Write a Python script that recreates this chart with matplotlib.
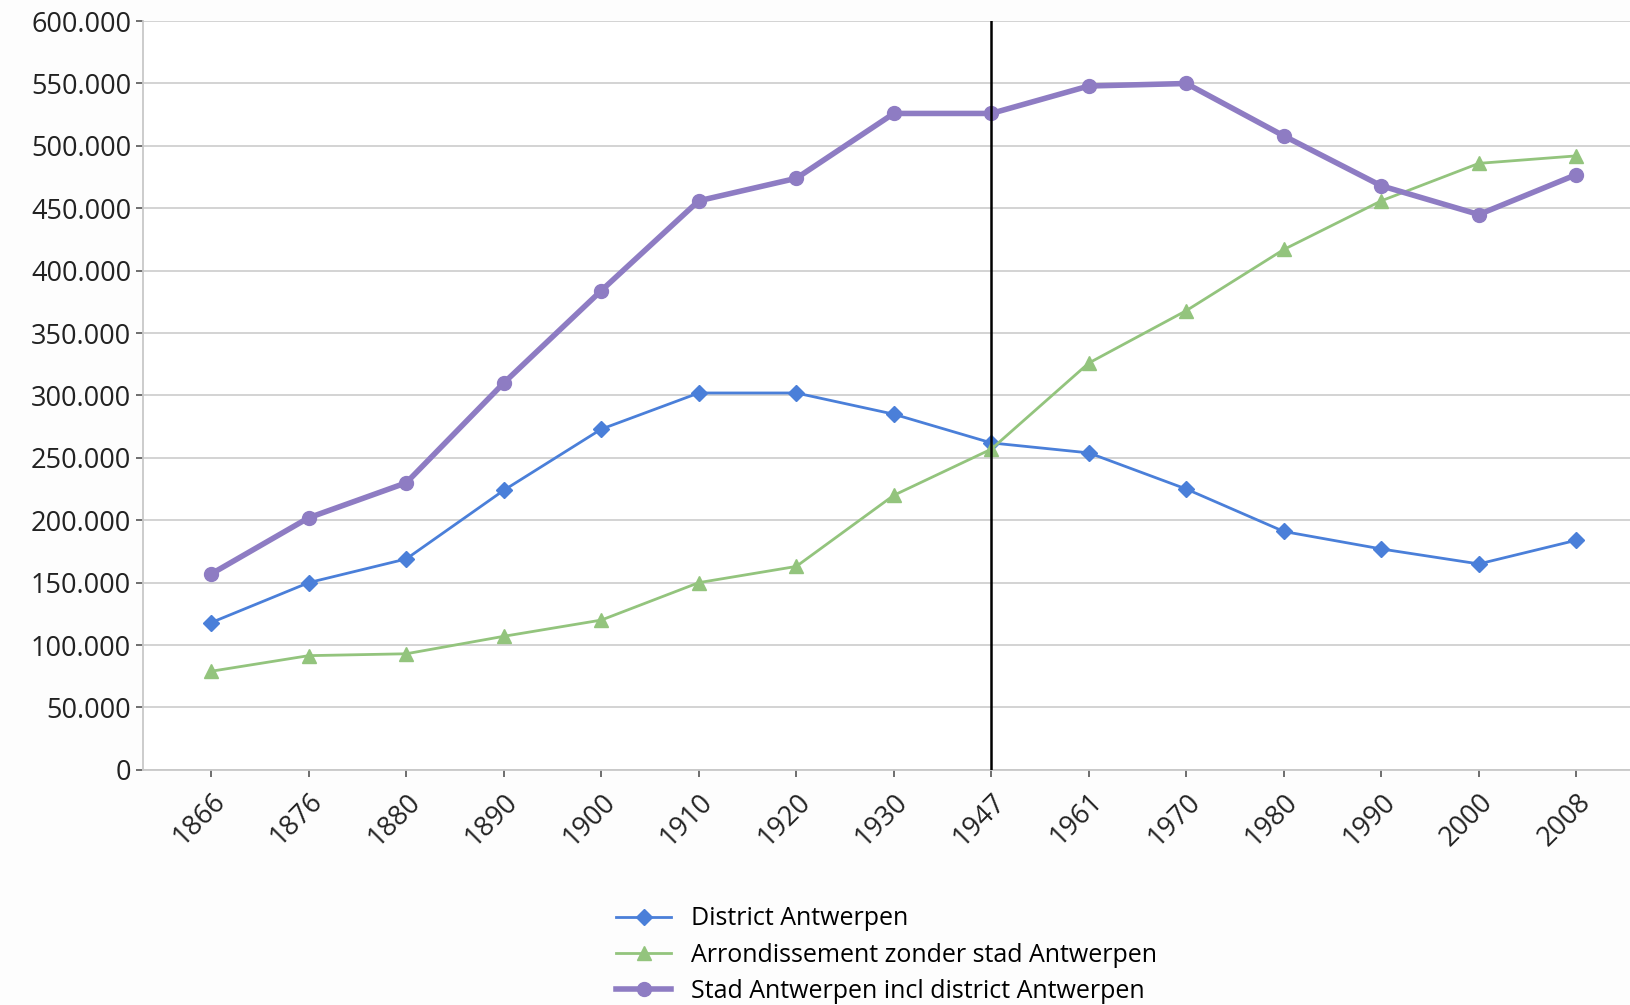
import numpy as np
import matplotlib.pyplot as plt
from matplotlib.ticker import FuncFormatter

plt.rcParams['font.family'] = ['Open Sans', 'DejaVu Sans']

years = ['1866', '1876', '1880', '1890', '1900', '1910', '1920', '1930',
         '1947', '1961', '1970', '1980', '1990', '2000', '2008']
district = [118000, 150000, 169000, 224000, 273000, 302000, 302000, 285000,
            262000, 254000, 225000, 191000, 177000, 165000, 184000]
arrondissement = [79000, 91500, 93000, 107000, 120000, 150000, 163000, 220000,
                  257000, 326000, 368000, 417000, 456000, 486000, 492000]
stad = [157000, 202000, 230000, 310000, 384000, 456000, 474000, 526000,
        526000, 548000, 550000, 508000, 468000, 445000, 477000]
marker_year = '1947'

fig = plt.figure(figsize=(16.3, 10.05), dpi=100)
ax = fig.add_axes([0.0877, 0.234, 0.9123, 0.745])

x = np.arange(len(years))
ax.plot(x, district, color='#4a7fd9', lw=2, marker='D', ms=8,
        label='District Antwerpen', zorder=3)
ax.plot(x, arrondissement, color='#93c47d', lw=2, marker='^', ms=9.5,
        label='Arrondissement zonder stad Antwerpen', zorder=3)
ax.plot(x, stad, color='#8e7cc3', lw=4, marker='o', ms=10,
        label='Stad Antwerpen incl district Antwerpen', zorder=3)

ax.axvline(years.index(marker_year), color='black', lw=1.8, zorder=4)

ax.set_ylim(0, 600000)
ax.set_yticks(np.arange(0, 600001, 50000))
ax.yaxis.set_major_formatter(FuncFormatter(lambda v, p: f'{int(v):,}'.replace(',', '.')))
ax.set_xlim(-0.7, 14.55)
ax.set_xticks(x)
ax.set_xticklabels(years, rotation=45, ha='right', rotation_mode='anchor')

ax.grid(axis='y', color='#d0d0d0', lw=1.3)
ax.set_axisbelow(True)
for s in ['top', 'right']:
    ax.spines[s].set_visible(False)
for s in ['left', 'bottom']:
    ax.spines[s].set_color('#c8c8c8')
    ax.spines[s].set_linewidth(1.3)
ax.tick_params(axis='both', colors='#555555', labelcolor='#222222', labelsize=19.5, length=5, width=1.2)
ax.tick_params(axis='x', pad=8)

fig.legend(loc='upper left', bbox_to_anchor=(0.372, 0.108), frameon=False,
           fontsize=18, handlelength=2.2, labelspacing=0.45, borderaxespad=0)

fig.savefig('out.png', dpi=100, facecolor='#fdfdfd')
